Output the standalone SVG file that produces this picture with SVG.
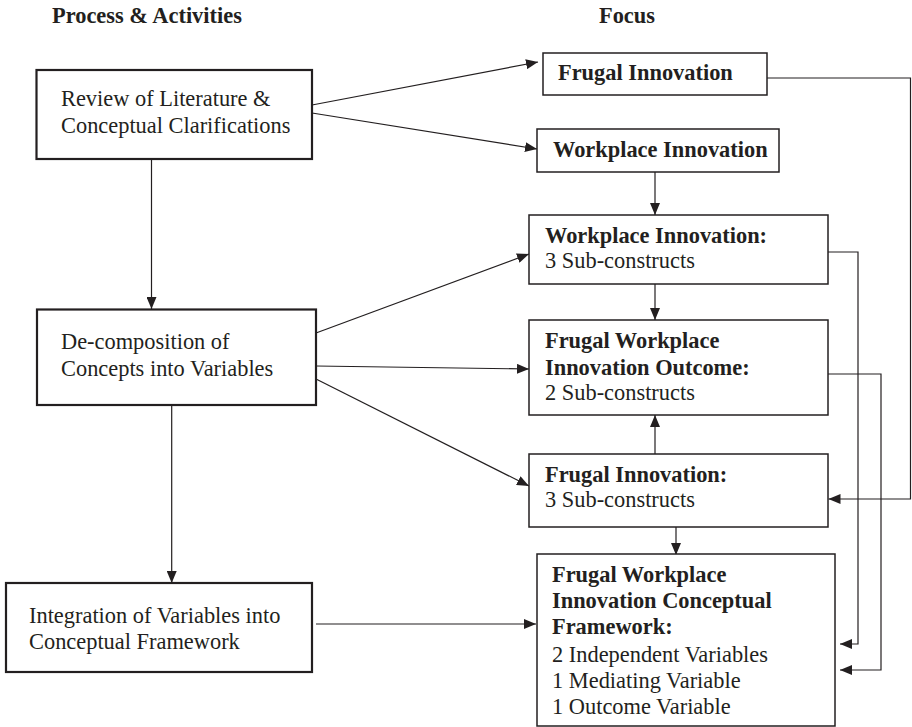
<svg xmlns="http://www.w3.org/2000/svg" width="912" height="727" viewBox="0 0 912 727">
  <defs>
    <marker id="arrow" markerUnits="userSpaceOnUse" markerWidth="12" markerHeight="10" refX="12" refY="5" orient="auto">
      <path d="M0,0 L12,5 L0,10 z" fill="#231f20"/>
    </marker>
    <style>
      text { font-family: "Liberation Serif", "Times New Roman", serif; font-size: 22.4px; fill: #231f20; }
      .b { font-weight: bold; }
      .left { fill: #fff; stroke: #231f20; stroke-width: 2.2; }
      .right { fill: #fff; stroke: #231f20; stroke-width: 1.5; }
      .conn path { fill: none; stroke: #231f20; stroke-width: 1.2; }
    </style>
  </defs>
  <rect width="912" height="727" fill="#fff"/>

  <!-- column headings -->
  <text class="b" x="52" y="23">Process &amp; Activities</text>
  <text class="b" x="599" y="23">Focus</text>

  <!-- connectors -->
  <g class="conn">
    <path d="M312,105 L538,62" marker-end="url(#arrow)"/>
    <path d="M312,113 L537,149" marker-end="url(#arrow)"/>
    <path d="M151.5,159 L151.5,309" marker-end="url(#arrow)"/>
    <path d="M316,333 L529,254" marker-end="url(#arrow)"/>
    <path d="M316,366 L529,369" marker-end="url(#arrow)"/>
    <path d="M316,379 L529,486" marker-end="url(#arrow)"/>
    <path d="M171.7,405 L171.7,583" marker-end="url(#arrow)"/>
    <path d="M316,624 L536,624" marker-end="url(#arrow)"/>
    <path d="M655,172 L655,215" marker-end="url(#arrow)"/>
    <path d="M655,284 L655,320" marker-end="url(#arrow)"/>
    <path d="M655,454 L655,415" marker-end="url(#arrow)"/>
    <path d="M676,527 L676,555" marker-end="url(#arrow)"/>
    <path d="M767,78 L910.5,78 L910.5,499 L828.5,499" marker-end="url(#arrow)"/>
    <path d="M828,252 L858,252 L858,644 L840,644" marker-end="url(#arrow)"/>
    <path d="M828,374 L881,374 L881,670 L840,670" marker-end="url(#arrow)"/>
  </g>

  <!-- process column -->
  <g id="review">
    <rect class="left" x="36.5" y="70" width="275.5" height="89"/>
    <text x="61" y="106">Review of Literature &amp;</text>
    <text x="61" y="133">Conceptual Clarifications</text>
  </g>
  <g id="decomposition">
    <rect class="left" x="37" y="309.5" width="279" height="95.5"/>
    <text x="61" y="349">De-composition of</text>
    <text x="61" y="376">Concepts into Variables</text>
  </g>
  <g id="integration">
    <rect class="left" x="6" y="583" width="306" height="89"/>
    <text x="29" y="623">Integration of Variables into</text>
    <text x="29" y="649">Conceptual Framework</text>
  </g>

  <!-- focus column -->
  <g id="frugal-innovation">
    <rect class="right" x="543" y="53" width="224" height="42"/>
    <text class="b" x="558" y="80">Frugal Innovation</text>
  </g>
  <g id="workplace-innovation">
    <rect class="right" x="537" y="129" width="242" height="43"/>
    <text class="b" x="553" y="157">Workplace Innovation</text>
  </g>
  <g id="workplace-subconstructs">
    <rect class="right" x="529" y="215" width="299" height="69"/>
    <text class="b" x="545" y="243">Workplace Innovation:</text>
    <text x="545" y="268">3 Sub-constructs</text>
  </g>
  <g id="outcome-subconstructs">
    <rect class="right" x="529" y="320" width="299" height="95"/>
    <text class="b" x="545" y="348">Frugal Workplace</text>
    <text class="b" x="545" y="375">Innovation Outcome:</text>
    <text x="545" y="400">2 Sub-constructs</text>
  </g>
  <g id="frugal-subconstructs">
    <rect class="right" x="529" y="454" width="299" height="73"/>
    <text class="b" x="545" y="482">Frugal Innovation:</text>
    <text x="545" y="507">3 Sub-constructs</text>
  </g>
  <g id="framework">
    <rect class="right" x="537" y="554" width="298" height="172"/>
    <text class="b" x="552" y="582">Frugal Workplace</text>
    <text class="b" x="552" y="608">Innovation Conceptual</text>
    <text class="b" x="552" y="634">Framework:</text>
    <text x="552" y="662">2 Independent Variables</text>
    <text x="552" y="688">1 Mediating Variable</text>
    <text x="552" y="714">1 Outcome Variable</text>
  </g>
</svg>
